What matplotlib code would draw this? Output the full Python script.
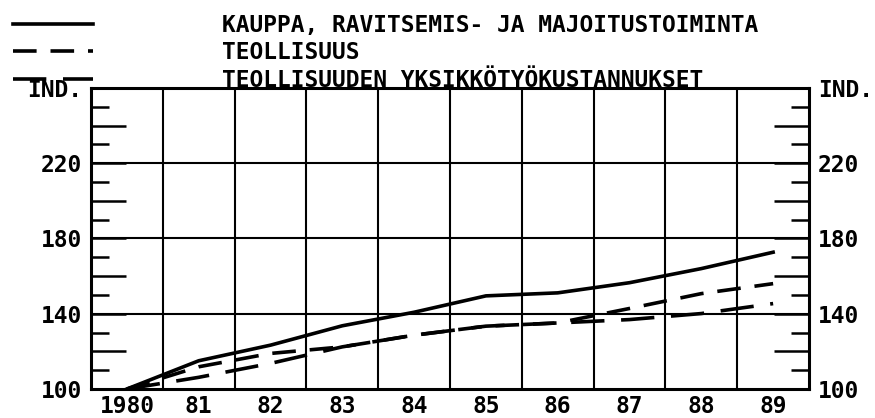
import matplotlib as mpl
mpl.use("Agg")
import matplotlib.pyplot as plt
import numpy as np

YEARS = ["1980", "81", "82", "83", "84", "85", "86", "87", "88", "89"]

KAUPPA = [100, 115, 123.3, 133.6, 140.8, 149.5, 151.1, 156.5, 164.0, 172.7]
TEOLLISUUS = [100, 111.8, 118.9, 122.4, 128.6, 133.4, 135.1, 142.8, 150.7, 156.0]
YKSIKKO = [100, 106.2, 113.6, 122.4, 128.6, 133.4, 135.1, 136.9, 140.1, 145.4]

LABELS = [
    "KAUPPA, RAVITSEMIS- JA MAJOITUSTOIMINTA",
    "TEOLLISUUS",
    "TEOLLISUUDEN YKSIKKÖTYÖKUSTANNUKSET",
]

Y_MIN, Y_MAX = 100, 260
GRID_Y = [140, 180, 220]

mpl.rcParams.update({
    "font.family": "DejaVu Sans Mono",
    "font.weight": "bold",
    "font.size": 16.5,
    "lines.scale_dashes": False,
})

fig = plt.figure(figsize=(8.75, 4.18), dpi=100)
ax = fig.add_axes((0.104, 0.0694, 0.8206, 0.7201))

x = np.arange(len(YEARS)) + 0.5
lw = 2.6
ax.plot(x, KAUPPA, color="black", lw=lw, label=LABELS[0])
ax.plot(x, TEOLLISUUS, color="black", lw=lw, dashes=(17, 10), label=LABELS[1])
ax.plot(x, YKSIKKO, color="black", lw=lw, dashes=(24, 12), label=LABELS[2])

ax.set_xlim(0, len(YEARS))
ax.set_ylim(Y_MIN, Y_MAX)

# vertical grid between the years, year labels in the middle of each cell
ax.set_xticks(np.arange(1, len(YEARS)))
ax.set_xticklabels([])
ax.set_xticks(x, minor=True)
ax.set_xticklabels(YEARS, minor=True)
ax.tick_params(axis="x", which="both", length=0)
ax.tick_params(axis="x", which="minor", pad=4)
ax.xaxis.grid(True, which="major", color="black", lw=1.5)

for yv in GRID_Y:
    ax.axhline(yv, color="black", lw=1.5, zorder=1)

yt = np.arange(Y_MIN, Y_MAX + 1, 20)
ylabels = []
for v in yt:
    if v == Y_MAX:
        ylabels.append("IND.")
    elif (v - Y_MIN) % 40 == 0:
        ylabels.append(str(v))
    else:
        ylabels.append("")
ax.set_yticks(yt)
ax.set_yticklabels(ylabels)
ax.set_yticks(np.arange(Y_MIN + 10, Y_MAX, 20), minor=True)
ax.tick_params(axis="y", which="both", direction="in", left=True, right=True,
               labelleft=True, labelright=True, width=1.8, pad=6.5)
ax.tick_params(axis="y", which="major", length=25)
ax.tick_params(axis="y", which="minor", length=13)

for s in ax.spines.values():
    s.set_linewidth(2.2)

fig.legend(loc="upper left", bbox_to_anchor=(0.015, 0.967), frameon=False,
           handlelength=3.5, handletextpad=5.6, labelspacing=0.2, borderpad=0,
           borderaxespad=0)

fig.savefig("out.png", dpi=100)
